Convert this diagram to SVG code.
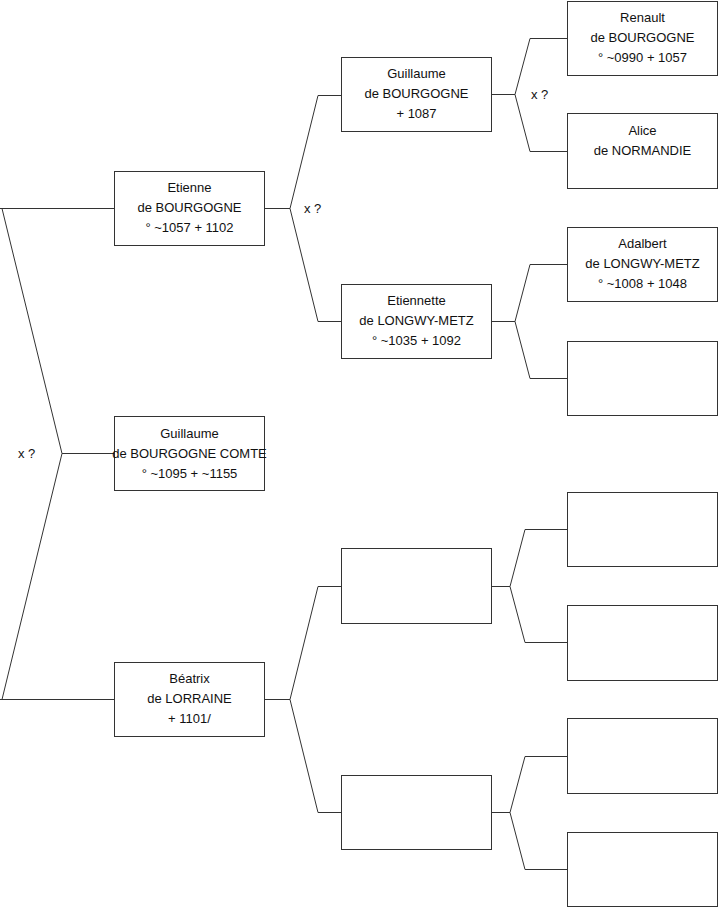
<svg xmlns="http://www.w3.org/2000/svg" width="719" height="908" viewBox="0 0 719 908">
<style>
.box rect{fill:#fff;stroke:#333;stroke-width:1}
text{font-family:"Liberation Sans",Arial,sans-serif;font-size:13px;fill:#111}
.box text{text-anchor:middle}
.conn path{fill:none;stroke:#333;stroke-width:1}
</style>
<rect x="0" y="0" width="719" height="908" fill="#fff"/>
<g class="conn" id="connectors">
<path d="M0,208.5 H114 M2,208.5 L62,453.5 H114 M62,453.5 L2,699.5 M0,699.5 H114"/>
<path d="M265,208.5 H290 L318,95.5 H341 M290,208.5 L318,321.5 H341"/>
<path d="M265,699.5 H290 L318,586.5 H341 M290,699.5 L318,812.5 H341"/>
<path d="M492,94.5 H515 L530,38.5 H567 M515,94.5 L530,151.5 H567"/>
<path d="M492,321.5 H515 L530,264.5 H567 M515,321.5 L530,378.5 H567"/>
<path d="M492,586.5 H510 L525,529.5 H567 M510,586.5 L525,642.5 H567"/>
<path d="M492,812.5 H510 L525,756.5 H567 M510,812.5 L525,869.5 H567"/>
<text x="18" y="457.5">x ?</text>
<text x="304" y="212.5">x ?</text>
<text x="531" y="98.5">x ?</text>
</g>
<g class="box" id="etienne"><rect x="114.5" y="171.5" width="150" height="74"/>
<text x="189.5" y="191.5">Etienne</text><text x="189.5" y="211.5">de BOURGOGNE</text><text x="189.5" y="231.5">° ~1057 + 1102</text></g>
<g class="box" id="guillaume-comte"><rect x="114.5" y="416.5" width="150" height="74"/>
<text x="189.5" y="437.5">Guillaume</text><text x="189.5" y="457.5">de BOURGOGNE COMTE</text><text x="189.5" y="477.5">° ~1095 + ~1155</text></g>
<g class="box" id="beatrix"><rect x="114.5" y="662.5" width="150" height="74"/>
<text x="189.5" y="682.5">Béatrix</text><text x="189.5" y="702.5">de LORRAINE</text><text x="189.5" y="722.5">+ 1101/</text></g>
<g class="box" id="guillaume"><rect x="341.5" y="57.5" width="150" height="74"/>
<text x="416.5" y="77.5">Guillaume</text><text x="416.5" y="97.5">de BOURGOGNE</text><text x="416.5" y="117.5">+ 1087</text></g>
<g class="box" id="etiennette"><rect x="341.5" y="284.5" width="150" height="74"/>
<text x="416.5" y="304.5">Etiennette</text><text x="416.5" y="324.5">de LONGWY-METZ</text><text x="416.5" y="344.5">° ~1035 + 1092</text></g>
<g class="box" id="empty-2c"><rect x="341.5" y="548.5" width="150" height="75"/></g>
<g class="box" id="empty-2d"><rect x="341.5" y="775.5" width="150" height="74"/></g>
<g class="box" id="renault"><rect x="567.5" y="1.5" width="150" height="74"/>
<text x="642.5" y="21.5">Renault</text><text x="642.5" y="41.5">de BOURGOGNE</text><text x="642.5" y="61.5">° ~0990 + 1057</text></g>
<g class="box" id="alice"><rect x="567.5" y="113.5" width="150" height="75"/>
<text x="642.5" y="134.5">Alice</text><text x="642.5" y="154.5">de NORMANDIE</text></g>
<g class="box" id="adalbert"><rect x="567.5" y="227.5" width="150" height="74"/>
<text x="642.5" y="247.5">Adalbert</text><text x="642.5" y="267.5">de LONGWY-METZ</text><text x="642.5" y="287.5">° ~1008 + 1048</text></g>
<g class="box" id="empty-3d"><rect x="567.5" y="341.5" width="150" height="74"/></g>
<g class="box" id="empty-3e"><rect x="567.5" y="492.5" width="150" height="74"/></g>
<g class="box" id="empty-3f"><rect x="567.5" y="605.5" width="150" height="75"/></g>
<g class="box" id="empty-3g"><rect x="567.5" y="718.5" width="150" height="75"/></g>
<g class="box" id="empty-3h"><rect x="567.5" y="832.5" width="150" height="74"/></g>
</svg>
